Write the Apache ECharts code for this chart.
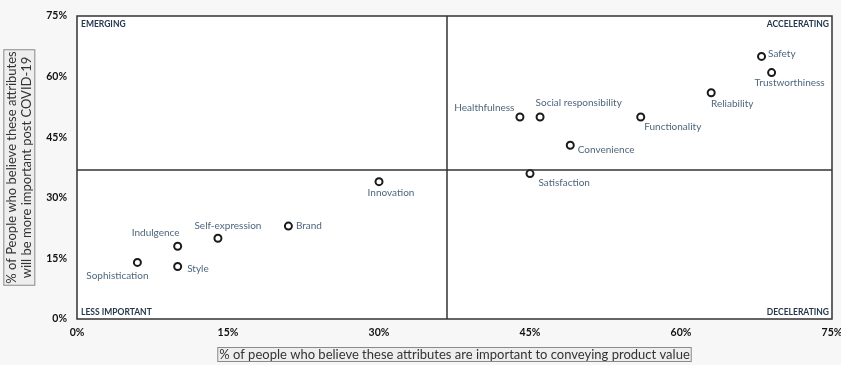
<!DOCTYPE html>
<html><head><meta charset="utf-8">
<script src="https://cdn.jsdelivr.net/npm/echarts@6/dist/echarts.min.js"></script>
<style>html,body{margin:0;padding:0;background:#f7f7f7;}#c{width:841px;height:365px;}</style>
</head><body><div id="c"></div>
<script>
const names = ['Safety','Trustworthiness','Reliability','Healthfulness','Social responsibility','Functionality','Convenience','Satisfaction','Innovation','Brand','Self-expression','Indulgence','Style','Sophistication'];
const xValues = [68, 69, 63, 44, 46, 56, 49, 45, 30, 21, 14, 10, 10, 6];
const yValues = [65, 61, 56, 50, 50, 50, 43, 36, 34, 23, 20, 18, 13, 14];
const xDivider = 36.7;
const yDivider = 37;
const tickValues = [0, 15, 30, 45, 60, 75];
const quadrantLabels = ['EMERGING','ACCELERATING','LESS IMPORTANT','DECELERATING'];

// label placement (style only)
const labelPos = {
  'Safety': ['right', [-3,-3]],
  'Trustworthiness': ['bottom', [18,-4]],
  'Reliability': ['bottom', [21,-3]],
  'Healthfulness': ['left', [4,-9]],
  'Social responsibility': ['right', [-14,-14]],
  'Functionality': ['right', [-6,10]],
  'Convenience': ['right', [-2,5]],
  'Satisfaction': ['right', [-1,9]],
  'Innovation': ['bottom', [12,-3]],
  'Brand': ['right', [-2,0]],
  'Self-expression': ['top', [10,2]],
  'Indulgence': ['top', [-22,1]],
  'Style': ['right', [0,2]],
  'Sophistication': ['bottom', [-20,-1]]
};

const data = names.map((n,i)=>({
  value:[xValues[i], yValues[i]], name:n,
  label:{position: labelPos[n][0], offset: labelPos[n][1]}
}));

const chart = echarts.init(document.getElementById('c'));
const qStyle = {fontFamily:'Lato', fontWeight:'bold', fontSize:8.5, fill:'#22384f'};
chart.setOption({
  backgroundColor:'#f7f7f7',
  animation:false,
  grid:{left:77, right:9, top:16, bottom:46, show:true, backgroundColor:'#ffffff', borderColor:'#333', borderWidth:1.5, outerBoundsMode:'none', containLabel:false},
  xAxis:{type:'value', min:0, max:75, interval:15,
    axisLine:{show:false}, axisTick:{show:false}, splitLine:{show:false},
    axisLabel:{formatter:v=>v+'%', color:'#111', fontFamily:'Lato', fontWeight:'bold', fontSize:10.5, margin:8},
    name:'% of people who believe these attributes are important to conveying product value',
    nameLocation:'middle', nameGap:29,
    nameTextStyle:{fontFamily:'Lato', fontSize:13, color:'#333', backgroundColor:'#eeeeee', borderColor:'#8a8a8a', borderWidth:1, padding:[0,1,0,1]}
  },
  yAxis:{type:'value', min:0, max:75, interval:15,
    axisLine:{show:false}, axisTick:{show:false}, splitLine:{show:false},
    axisLabel:{formatter:v=>v+'%', color:'#111', fontFamily:'Lato', fontWeight:'bold', fontSize:10.5, margin:10},
    name:'% of People who believe these attributes\nwill be more important post COVID-19',
    nameLocation:'middle', nameGap:34, nameRotate:90,
    nameTextStyle:{fontFamily:'Lato', fontSize:13, color:'#333', lineHeight:15, backgroundColor:'#eeeeee', borderColor:'#8a8a8a', borderWidth:1, padding:[0,1,0,1]}
  },
  graphic:[
    {type:'text', left:81, top:20, style:Object.assign({text:quadrantLabels[0]}, qStyle)},
    {type:'text', right:12, top:20, style:Object.assign({text:quadrantLabels[1]}, qStyle)},
    {type:'text', left:81, top:308, style:Object.assign({text:quadrantLabels[2]}, qStyle)},
    {type:'text', right:12, top:308, style:Object.assign({text:quadrantLabels[3]}, qStyle)}
  ],
  series:[{
    type:'scatter', data:data, symbol:'circle', symbolSize:7,
    itemStyle:{color:'#ffffff', borderColor:'#1a1a1a', borderWidth:2, opacity:1},
    label:{show:true, formatter:'{b}', color:'#4d6680', fontFamily:'Lato', fontSize:10, distance:5},
    markLine:{silent:true, symbol:['none','none'], label:{show:false},
      lineStyle:{color:'#333', width:1.5, type:'solid'},
      data:[{xAxis:xDivider},{yAxis:yDivider}]
    },
    z:3
  }]
});
</script></body></html>
